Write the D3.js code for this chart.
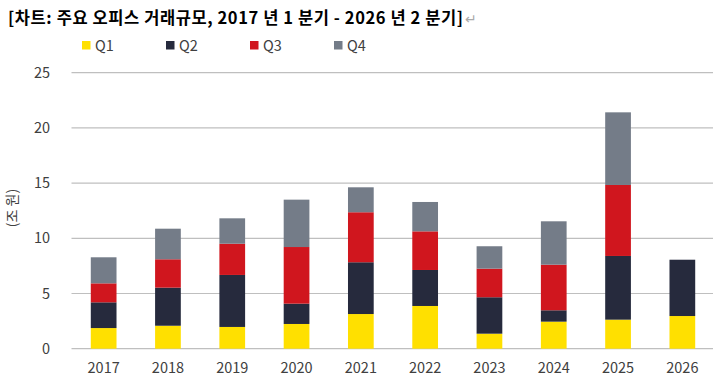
<!DOCTYPE html>
<html><head><meta charset="utf-8">
<script src="https://cdn.jsdelivr.net/npm/d3@7/dist/d3.min.js"></script>
<style>body{margin:0;background:#fff}svg{display:block}</style>
</head><body><svg id="c" width="720" height="388"></svg>
<script>
const years = ["2017","2018","2019","2020","2021","2022","2023","2024","2025","2026"];
const seriesNames = ["Q1","Q2","Q3","Q4"];
const q1 = [1.87,2.08,1.97,2.24,3.14,3.87,1.36,2.45,2.63,2.96];
const q2 = [2.33,3.45,4.71,1.84,4.69,3.26,3.30,1.03,5.77,5.10];
const q3 = [1.72,2.57,2.83,5.13,4.53,3.50,2.59,4.13,6.43,0];
const q4 = [2.36,2.77,2.30,4.29,2.26,2.66,2.03,3.93,6.58,0];
const yTicks = [0,5,10,15,20,25];
const colors = ["#FFE000","#262A3D","#D0161E","#747C88"];
const title = "[차트: 주요 오피스 거래규모, 2017 년 1 분기 - 2026 년 2 분기]";
const yTitle = "(조 원)";

const svg = d3.select("#c");
const font = "'Noto Sans CJK KR','Noto Sans',sans-serif";
const M = {l:71.5, r:714.5, t:72.7, b:348.7};
const x = d3.scaleBand().domain(years).range([M.l, M.r]).paddingInner(0.6).paddingOuter(0.3);
const y = d3.scaleLinear().domain([0,25]).range([M.b, M.t]);

// grid
svg.append("g").selectAll("line").data(yTicks).join("line")
  .attr("x1", M.l).attr("x2", 713).attr("y1", d=>y(d)).attr("y2", d=>y(d))
  .attr("stroke", "#BFBFBF").attr("stroke-width", 1.2);

// y labels
const yAxis = d3.axisLeft(y).tickValues(yTicks).tickSize(0).tickPadding(0);
const yg = svg.append("g").attr("transform", `translate(50,0)`).call(yAxis);
yg.select(".domain").remove();
yg.selectAll("text").attr("font-family", font).attr("font-size", 14.5).attr("fill", "#404040");

// stacked bars
const table = years.map((yr,i)=>({year:yr, Q1:q1[i], Q2:q2[i], Q3:q3[i], Q4:q4[i]}));
const stack = d3.stack().keys(seriesNames)(table);
svg.append("g").selectAll("g").data(stack).join("g")
  .attr("fill", (d,i)=>colors[i])
  .selectAll("rect").data(d=>d.filter(p=>p[1]-p[0]>0)).join("rect")
  .attr("x", d=>x(d.data.year)).attr("width", x.bandwidth())
  .attr("y", d=>y(d[1])).attr("height", d=>y(d[0])-y(d[1]));

// x labels
const xAxis = d3.axisBottom(x).tickSize(0).tickPadding(0);
const xg = svg.append("g").attr("transform", `translate(0,${M.b+14})`).call(xAxis);
xg.select(".domain").remove();
xg.selectAll("text").attr("font-family", font).attr("font-size", 14.5).attr("fill", "#404040");

// y title
svg.append("text").attr("transform", "translate(17,208) rotate(-90)")
  .attr("text-anchor","middle").attr("font-family", font).attr("font-size", 14)
  .attr("fill","#404040").text(yTitle);

// title
svg.append("text").attr("x", 8).attr("y", 24)
  .attr("font-family", font).attr("font-size", 16.5).attr("font-weight", "bold")
  .attr("fill","#000").attr("textLength", 455).attr("lengthAdjust","spacing").text(title);
svg.append("text").attr("x", 465).attr("y", 24)
  .attr("font-family", font).attr("font-size", 14).attr("fill","#AAAAAA").text("↵");

// legend
const lg = svg.append("g").selectAll("g").data(seriesNames).join("g")
  .attr("transform", (d,i)=>`translate(${82+i*84},41)`);
lg.append("rect").attr("width",8.5).attr("height",8.5).attr("fill",(d,i)=>colors[i]);
lg.append("text").attr("x",13).attr("y",4.5).attr("dy","0.35em")
  .attr("font-family", font).attr("font-size", 14.5).attr("fill","#404040").text(d=>d);
</script></body></html>
